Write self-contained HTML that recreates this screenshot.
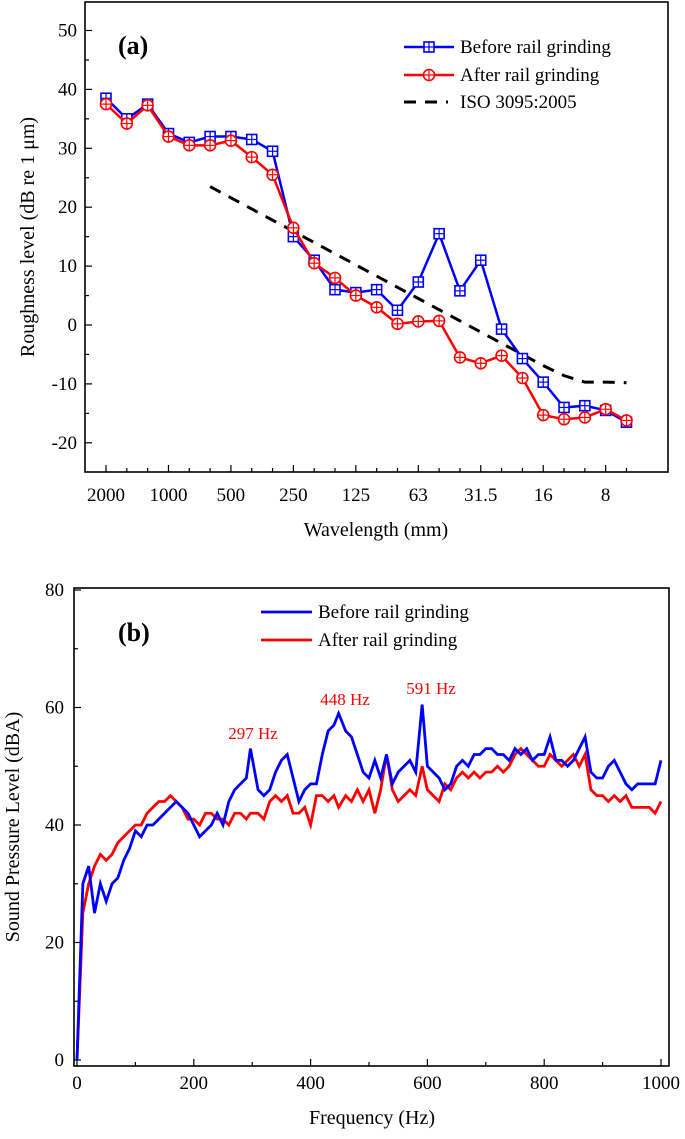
<!DOCTYPE html>
<html><head><meta charset="utf-8"><style>
body{margin:0;background:#fff;}
svg text{font-family:"Liberation Serif",serif;}
</style></head><body>
<svg id="s" width="685" height="1134" viewBox="0 0 685 1134" xmlns="http://www.w3.org/2000/svg"></svg>
<script>
// ---- Chart (a) data ----
const bandLabels = ["2000","","","1000","","","500","","","250","","","125","","","63","","","31.5","","","16","","","8",""];
const beforeA = [38.5,35,37.5,32.5,31,32,32,31.5,29.5,15,11,6,5.5,6,2.5,7.3,15.5,5.8,11,-0.7,-5.7,-9.7,-14,-13.7,-14.5,-16.5];
const afterA = [37.5,34.2,37.3,32,30.5,30.5,31.3,28.5,25.5,16.5,10.5,8,5,3,0.2,0.6,0.7,-5.5,-6.5,-5.2,-9,-15.3,-16,-15.7,-14.3,-16.2];
const isoA = [null,null,null,null,null,23.5,21.6,19.7,17.8,15.9,14.0,12.1,10.2,8.3,6.4,4.5,2.6,0.7,-1.2,-3.1,-5.0,-6.9,-8.6,-9.7,-9.7,-9.8];
const yTicksA = [50,40,30,20,10,0,-10,-20];
// ---- Chart (b) data ----
const freqB = [0,10,20,30,40,50,60,70,80,90,100,110,120,130,140,150,160,170,180,190,200,210,220,230,240,250,260,270,280,290,297,310,320,330,340,350,360,370,380,390,400,410,420,430,440,448,460,470,480,490,500,510,520,530,540,550,560,570,580,591,600,610,620,630,640,650,660,670,680,690,700,710,720,730,740,750,760,770,780,790,800,810,820,830,840,850,860,870,880,890,900,910,920,930,940,950,960,970,980,990,1000];
const beforeB = [0,30,33,25,30,27,30,31,34,36,39,38,40,40,41,42,43,44,43,42,40,38,39,40,42,40,44,46,47,48,53,46,45,46,49,51,52,48,44,46,47,47,52,56,57,59,56,55,52,49,48,51,48,52,47,49,50,51,49,60.5,50,49,48,46,47,50,51,50,52,52,53,53,52,52,51,53,52,53,51,52,52,55,51,51,50,51,53,55,49,48,48,50,51,49,47,46,47,47,47,47,51];
const afterB = [0,25,30,33,35,34,35,37,38,39,40,40,42,43,44,44,45,44,43,41,41,40,42,42,41,41,40,42,42,41,42,42,41,44,45,44,45,42,42,43,40,45,45,44,45,43,45,44,46,44,46,42,46,52,46,44,45,46,45,50,46,45,44,47,46,48,49,48,49,48,49,49,50,49,50,52,53,52,51,50,50,52,51,50,51,52,50,52,46,45,45,44,45,44,45,43,43,43,43,42,44];
const yTicksB = [0,20,40,60,80];
const xTicksB = [0,200,400,600,800,1000];

const NS="http://www.w3.org/2000/svg";
const svg=document.getElementById('s');
function mk(tag,attrs,parent,txt){const e=document.createElementNS(NS,tag);for(const k in attrs)e.setAttribute(k,attrs[k]);if(txt!==undefined)e.textContent=txt;(parent||svg).appendChild(e);return e;}

// ===== Chart A =====
const A={l:85,r:668,t:2,b:472};
const xA=i=>106+i*20.82;
const yA=v=>325-v*5.89;
const gA=mk('g',{});


const frameA=mk('rect',{x:A.l,y:A.t,width:A.r-A.l,height:A.b-A.t,fill:'none',stroke:'#000','stroke-width':1.6},gA);


for(let v=-25;v<=55;v+=5){const y=yA(v);if(y<A.t||y>A.b)continue;const major=v%10===0;mk('line',{x1:A.l,x2:A.l+(major?7:4),y1:y,y2:y,stroke:'#000','stroke-width':1.2},gA);}
yTicksA.forEach(v=>{const t=mk('text',{x:A.l-8,y:yA(v)+6,'text-anchor':'end','font-size':19},gA,String(v));

});
bandLabels.forEach((lb,i)=>{const x=xA(i);mk('line',{x1:x,x2:x,y1:A.b,y2:A.b-(lb?7:4),stroke:'#000','stroke-width':1.2},gA);
if(lb){const t=mk('text',{x:x,y:501,'text-anchor':'middle','font-size':19},gA,lb);

}});
const xtA=mk('text',{x:376,y:536,'text-anchor':'middle','font-size':20},gA,'Wavelength (mm)');


const ytA=mk('text',{x:0,y:0,'text-anchor':'middle','font-size':20,transform:'translate(34,237) rotate(-90)'},gA,'Roughness level (dB re 1 μm)');


const la=mk('text',{x:118,y:54,'font-size':26,'font-weight':'bold'},gA,'(a)');


let isoPts=[];isoA.forEach((v,i)=>{if(v!==null)isoPts.push(xA(i)+','+yA(v));});
const iso=mk('polyline',{points:isoPts.join(' '),fill:'none',stroke:'#000','stroke-width':3,'stroke-dasharray':'12,9'},gA);


function seriesA(data,col,marker,name){
 const g=mk('g',{},gA);
 
 
 mk('polyline',{points:data.map((v,i)=>xA(i)+','+yA(v)).join(' '),fill:'none',stroke:col,'stroke-width':2.5},g);
 data.forEach((v,i)=>{const x=xA(i),y=yA(v);
  if(marker==='sq'){mk('rect',{x:x-5,y:y-5,width:10,height:10,fill:'#fff',stroke:col,'stroke-width':1.6},g);}
  else{mk('circle',{cx:x,cy:y,r:5.5,fill:'#fff',stroke:col,'stroke-width':1.6},g);}
  mk('line',{x1:x-5,x2:x+5,y1:y,y2:y,stroke:col,'stroke-width':1.2},g);
  mk('line',{x1:x,x2:x,y1:y-5,y2:y+5,stroke:col,'stroke-width':1.2},g);});
}
seriesA(beforeA,'#0000ff','sq','series-before-a');
seriesA(afterA,'#ff0000','ci','series-after-a');
const legA=mk('g',{},gA);


[['Before rail grinding','#0000ff','sq',47],['After rail grinding','#ff0000','ci',75]].forEach(([t,c,m,y])=>{
 mk('line',{x1:404,x2:454,y1:y,y2:y,stroke:c,'stroke-width':2.5},legA);
 if(m==='sq')mk('rect',{x:424,y:y-5,width:10,height:10,fill:'#fff',stroke:c,'stroke-width':1.6},legA);else mk('circle',{cx:429,cy:y,r:5.5,fill:'#fff',stroke:c,'stroke-width':1.6},legA);
 mk('line',{x1:424,x2:434,y1:y,y2:y,stroke:c,'stroke-width':1.2},legA);mk('line',{x1:429,x2:429,y1:y-5,y2:y+5,stroke:c,'stroke-width':1.2},legA);
 mk('text',{x:460,y:y+6,'font-size':19},legA,t);});
mk('line',{x1:404,x2:448,y1:102,y2:102,stroke:'#000','stroke-width':3,'stroke-dasharray':'12,9'},legA);
mk('text',{x:460,y:108,'font-size':19},legA,'ISO 3095:2005');

// ===== Chart B =====
const B={l:74,r:669,t:588,b:1066};
const xB=f=>77+f*0.584;
const yB=v=>1060-v*5.875;
const gB=mk('g',{});


const frameB=mk('rect',{x:B.l,y:B.t,width:B.r-B.l,height:B.b-B.t,fill:'none',stroke:'#000','stroke-width':1.6},gB);


for(let v=0;v<=80;v+=10){mk('line',{x1:B.l,x2:B.l+(v%20===0?7:4),y1:yB(v),y2:yB(v),stroke:'#000','stroke-width':1.2},gB);}
yTicksB.forEach(v=>{const t=mk('text',{x:B.l-10,y:yB(v)+6,'text-anchor':'end','font-size':19},gB,String(v));

});
for(let f=0;f<=1000;f+=100){mk('line',{x1:xB(f),x2:xB(f),y1:B.b,y2:B.b-(f%200===0?7:4),stroke:'#000','stroke-width':1.2},gB);}
xTicksB.forEach(f=>{const t=mk('text',{x:xB(f),y:1089,'text-anchor':'middle','font-size':19},gB,String(f));

});
const xtB=mk('text',{x:372,y:1124,'text-anchor':'middle','font-size':20},gB,'Frequency (Hz)');


const ytB=mk('text',{x:0,y:0,'text-anchor':'middle','font-size':20,transform:'translate(19,827) rotate(-90)'},gB,'Sound Pressure Level (dBA)');


const lb=mk('text',{x:118,y:641,'font-size':26,'font-weight':'bold'},gB,'(b)');


const pa=mk('polyline',{points:afterB.map((v,i)=>xB(freqB[i])+','+yB(v)).join(' '),fill:'none',stroke:'#ff0000','stroke-width':2.8},gB);


const pb=mk('polyline',{points:beforeB.map((v,i)=>xB(freqB[i])+','+yB(v)).join(' '),fill:'none',stroke:'#0000ff','stroke-width':2.8},gB);


[['297 Hz',253,739],['448 Hz',345,705],['591 Hz',431,694]].forEach(([t,x,y])=>{const e=mk('text',{x:x,y:y,'text-anchor':'middle','font-size':17,fill:'#ff0000'},gB,t);

});
const legB=mk('g',{},gB);


[['Before rail grinding','#0000ff',612],['After rail grinding','#ff0000',640]].forEach(([t,c,y])=>{
 mk('line',{x1:261,x2:312,y1:y,y2:y,stroke:c,'stroke-width':2.8},legB);
 mk('text',{x:318,y:y+6,'font-size':19},legB,t);});
</script>
</body></html>
